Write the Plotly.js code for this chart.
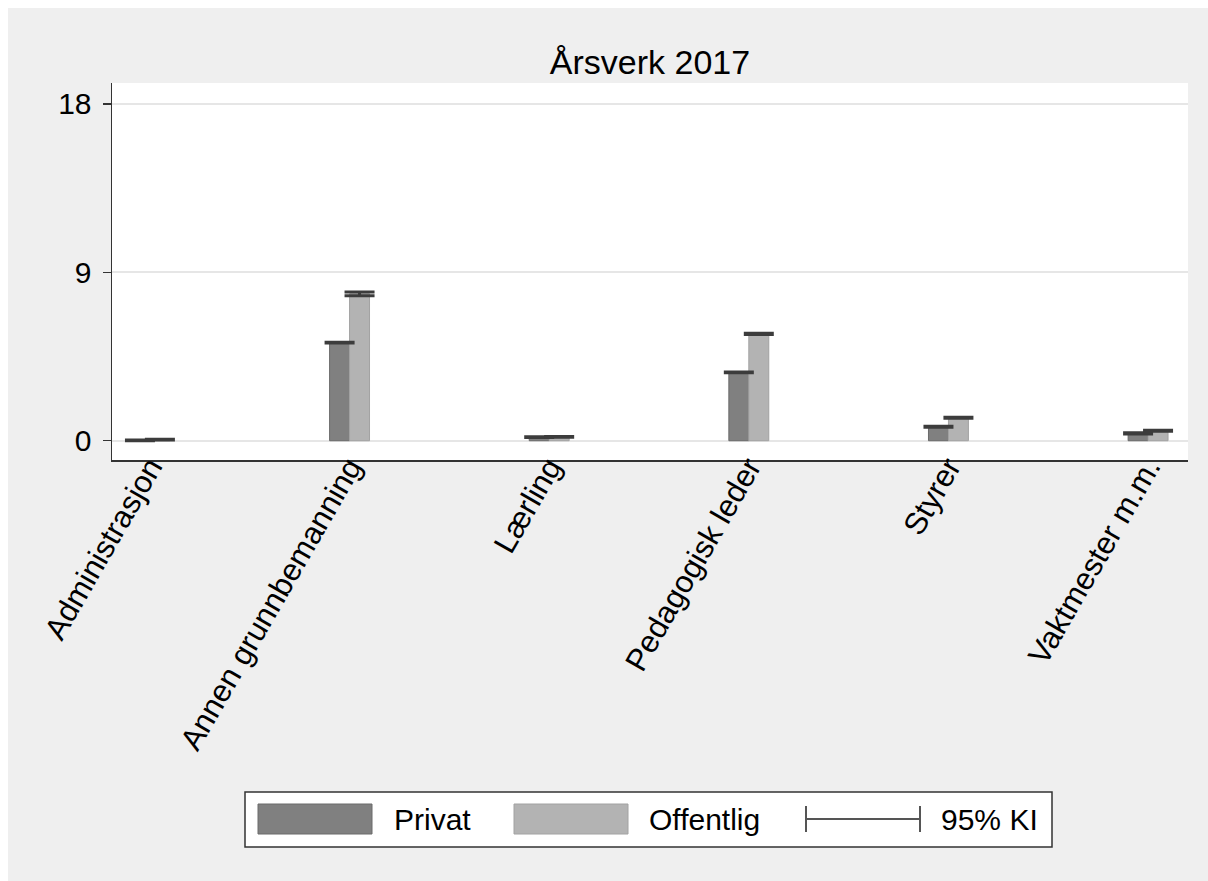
<!DOCTYPE html>
<html>
<head>
<meta charset="utf-8">
<script src="https://cdn.plot.ly/plotly-3.0.1.min.js"></script>
<style>
  html, body { margin: 0; padding: 0; background: #ffffff; }
  #chart { position: absolute; left: 8px; top: 8px; width: 1200px; height: 873px; }
</style>
</head>
<body>
<div id="chart"></div>
<script>
// ---- data ----
const categories = ['Administrasjon', 'Annen grunnbemanning', 'Lærling', 'Pedagogisk leder', 'Styrer', 'Vaktmester m.m.'];
const privat      = [0.02, 5.25, 0.19, 3.65, 0.75, 0.39];
const offentlig   = [0.06, 7.85, 0.21, 5.71, 1.23, 0.53];
const privatCI    = [0.02, 0.02, 0.02, 0.02, 0.03, 0.03];
const offentligCI = [0.02, 0.10, 0.02, 0.03, 0.03, 0.03];
const yTicks = [0, 9, 18];
const titleText = 'Årsverk 2017';
const legendLabels = ['Privat', 'Offentlig', '95% KI'];

// ---- layout helpers ----
const FONT = 'Liberation Sans, Arial, sans-serif';
const M = {l: 104, t: 75, r: 20, b: 421};
const W = 1200, H = 873;
const PW = W - M.l - M.r, PH = H - M.t - M.b;
const px = x => (x - 8 - M.l) / PW;
const py = y => (M.t + PH - (y - 8)) / PH;

const idx = categories.map((_, i) => i);
const half = 0.05;
const xP = idx.map(i => i - half);
const xO = idx.map(i => i + half);

const cPriv = '#808080', cOff = '#b3b3b3', cCI = '#3c3c3c';

const traces = [
  {type: 'bar', x: xP, y: privat, width: 0.1, name: 'Privat',
   marker: {color: cPriv, line: {color: '#6a6a6a', width: 1}}},
  {type: 'bar', x: xO, y: offentlig, width: 0.1, name: 'Offentlig',
   marker: {color: cOff, line: {color: '#a2a2a2', width: 1}}},
  {type: 'scatter', mode: 'markers', x: xP, y: privat,
   marker: {size: 1, color: 'rgba(0,0,0,0)'},
   error_y: {type: 'data', array: privatCI, symmetric: true, width: 15, thickness: 3, color: cCI}},
  {type: 'scatter', mode: 'markers', x: xO, y: offentlig,
   marker: {size: 1, color: 'rgba(0,0,0,0)'},
   error_y: {type: 'data', array: offentligCI, symmetric: true, width: 15, thickness: 3, color: cCI}}
];

// ---- custom legend ----
const ly0 = py(792), ly1 = py(847), sy0 = py(804), sy1 = py(834), cy = py(819);
const shapes = [
  {type: 'rect', xref: 'paper', yref: 'paper', x0: px(245), x1: px(1052), y0: ly0, y1: ly1,
   fillcolor: '#ffffff', line: {color: '#333333', width: 1.5}},
  {type: 'rect', xref: 'paper', yref: 'paper', x0: px(258), x1: px(372), y0: sy0, y1: sy1,
   fillcolor: cPriv, line: {color: '#6a6a6a', width: 1}},
  {type: 'rect', xref: 'paper', yref: 'paper', x0: px(514), x1: px(628), y0: sy0, y1: sy1,
   fillcolor: cOff, line: {color: '#a2a2a2', width: 1}},
  {type: 'line', xref: 'paper', yref: 'paper', x0: px(806), x1: px(920), y0: cy, y1: cy,
   line: {color: '#555555', width: 2}},
  {type: 'line', xref: 'paper', yref: 'paper', x0: px(806), x1: px(806), y0: py(806), y1: py(832),
   line: {color: '#555555', width: 2}},
  {type: 'line', xref: 'paper', yref: 'paper', x0: px(920), x1: px(920), y0: py(806), y1: py(832),
   line: {color: '#555555', width: 2}}
];
const legX = [392, 647, 939];
const annotations = legendLabels.map((t, i) => ({
  xref: 'paper', yref: 'paper', x: px(legX[i]), y: cy, text: t, showarrow: false,
  xanchor: 'left', yanchor: 'middle', font: {family: FONT, size: 30, color: '#000'}
}));

const layout = {
  width: W, height: H,
  margin: M,
  paper_bgcolor: '#efefef',
  plot_bgcolor: '#ffffff',
  showlegend: false,
  hovermode: false,
  barmode: 'overlay',
  title: {text: titleText, x: 0.5, xref: 'paper', xanchor: 'center',
          y: 1 - 54 / H, yref: 'container', yanchor: 'middle',
          font: {family: FONT, size: 34, color: '#000'}},
  xaxis: {
    type: 'linear', range: [-0.19, 5.2],
    tickvals: idx, ticktext: categories, tickangle: -60,
    ticks: '', showgrid: false, zeroline: false,
    ticklabelstandoff: -25, ticklabelshift: 0,
    showline: true, linecolor: '#333333', linewidth: 1.5,
    tickfont: {family: FONT, size: 31, color: '#000'}
  },
  yaxis: {
    range: [-1.03, 19.12], tickvals: yTicks, ticktext: yTicks.map(String),
    ticks: 'outside', ticklen: 8, tickwidth: 1.5, tickcolor: '#333333',
    ticklabelstandoff: 5,
    showgrid: true, gridcolor: '#e6e6e6', gridwidth: 2, zeroline: false,
    showline: true, linecolor: '#333333', linewidth: 1.5,
    tickfont: {family: FONT, size: 30, color: '#000'}
  },
  shapes: shapes,
  annotations: annotations
};

Plotly.newPlot('chart', traces, layout, {displayModeBar: false, staticPlot: true});
</script>
</body>
</html>
